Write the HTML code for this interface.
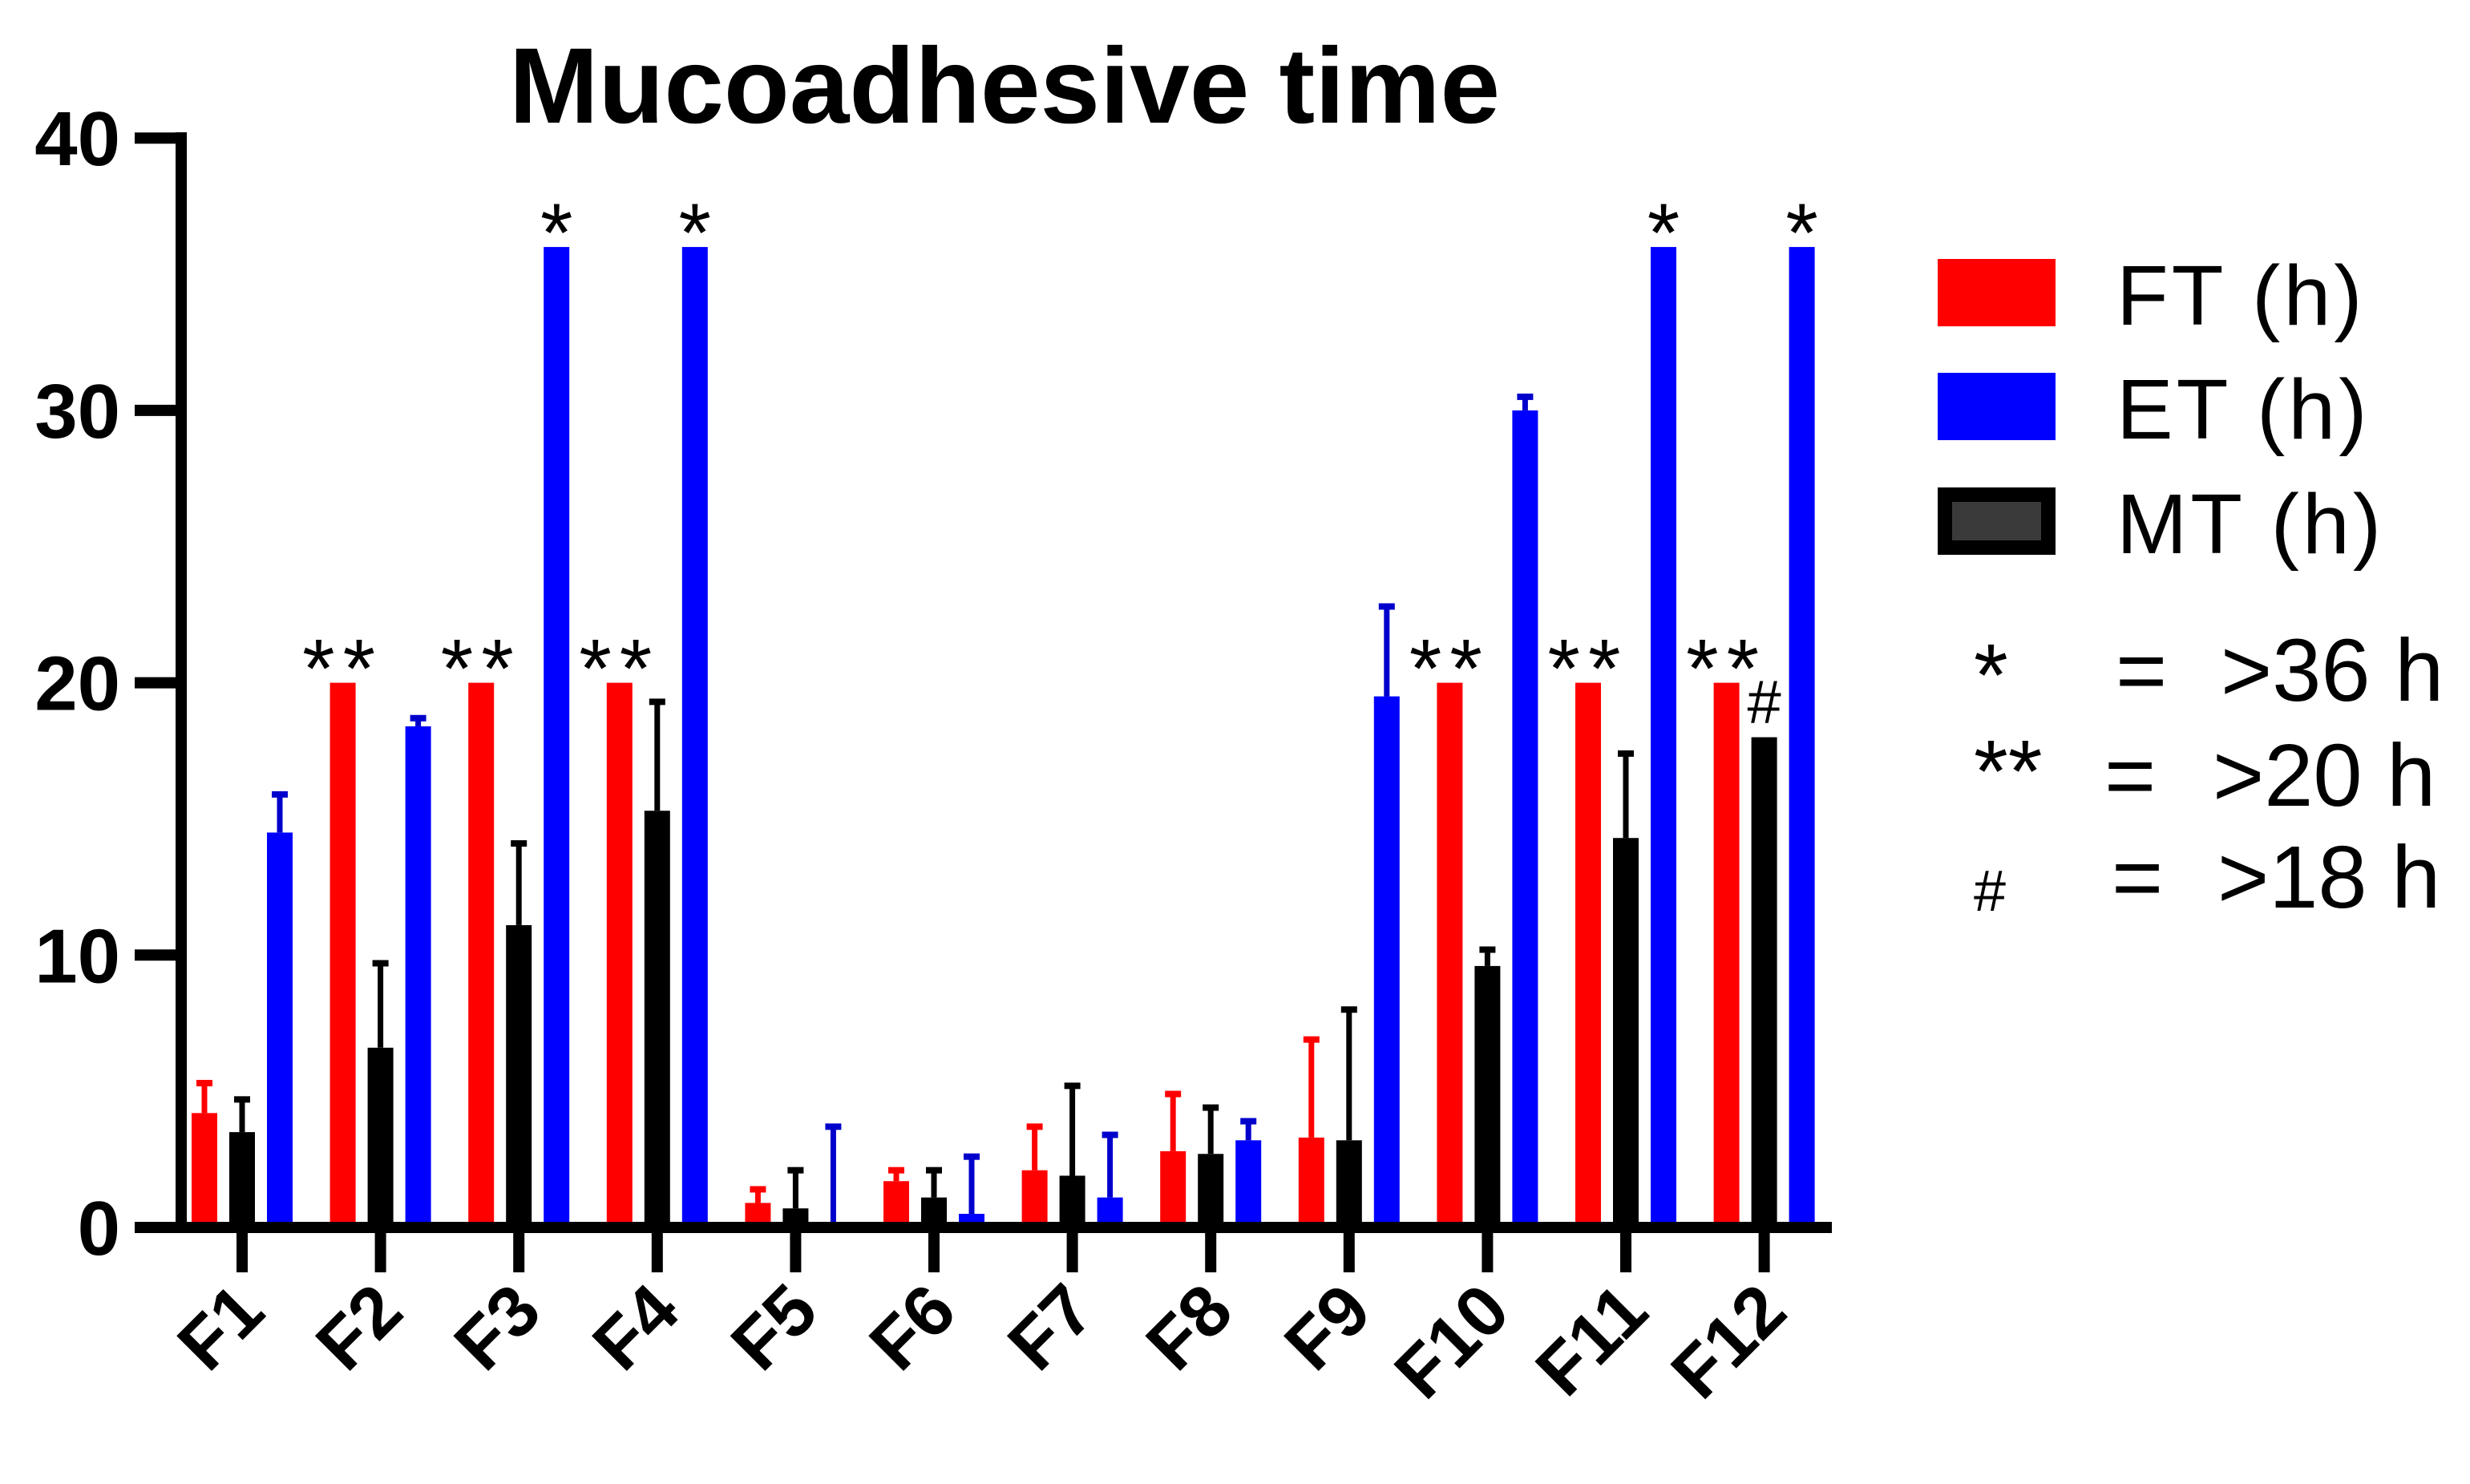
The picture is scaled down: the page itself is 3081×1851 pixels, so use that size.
<!DOCTYPE html>
<html><head><meta charset="utf-8"><style>
html,body{margin:0;padding:0;background:#fff;}
svg{display:block;}
text{font-family:"Liberation Sans",Arial,sans-serif;}
</style></head><body>
<svg id="chart" width="3081" height="1851" viewBox="0 0 3081 1851" xmlns="http://www.w3.org/2000/svg">
<text x="1253" y="153" font-size="134" font-weight="bold" text-anchor="middle">Mucoadhesive time</text>
<g id="bars"></g>
<g id="axes"></g>
<g>
<rect x="2417" y="323" width="147" height="84" fill="#ff0000"/>
<text x="2640" y="405" font-size="106" letter-spacing="4">FT (h)</text>
<rect x="2417" y="465" width="147" height="84" fill="#0000ff"/>
<text x="2640" y="547" font-size="106" letter-spacing="4">ET (h)</text>
<rect x="2426" y="617" width="129" height="66" fill="#3a3a3a" stroke="#000" stroke-width="18"/>
<text x="2640" y="690" font-size="106" letter-spacing="4">MT (h)</text>
<text x="2462" y="880" font-size="110">*</text>
<text x="2639" y="874" font-size="110">=</text>
<text x="2770" y="874" font-size="110">&gt;36 h</text>
<text x="2462" y="1000" font-size="110">**</text>
<text x="2625" y="1005" font-size="110">=</text>
<text x="2760" y="1005" font-size="110">&gt;20 h</text>
<text x="2462" y="1136" font-size="72">#</text>
<text x="2634" y="1132" font-size="110">=</text>
<text x="2766" y="1132" font-size="110">&gt;18 h</text>
</g>
</svg>
<script>
const categories=["F1","F2","F3","F4","F5","F6","F7","F8","F9","F10","F11","F12"];
const ftValues=[4.2,20,20,20,0.9,1.7,2.1,2.8,3.3,20,20,20];
const ftErrors=[5.3,null,null,null,1.4,2.1,3.7,4.9,6.9,null,null,null];
const mtValues=[3.5,6.6,11.1,15.3,0.7,1.1,1.9,2.7,3.2,9.6,14.3,18];
const mtErrors=[4.7,9.7,14.1,19.3,2.1,2.1,5.2,4.4,8.0,10.2,17.4,null];
const etValues=[14.5,18.4,36,36,0.2,0.5,1.1,3.2,19.5,30,36,36];
const etErrors=[15.9,18.7,null,null,3.7,2.6,3.4,3.9,22.8,30.5,null,null];
const ftMarks=["","**","**","**","","","","","","**","**","**"];
const etMarks=["","","*","*","","","","","","","*","*"];
const mtMarks=["","","","","","","","","","","","#"];
const yTicks=[0,10,20,30,40];

const NS="http://www.w3.org/2000/svg";
const y0=1531,unit=33.97;
function yScale(v){return y0-v*unit;}
function xScale(i){return 302+i*172.6;}
const barsG=document.getElementById('bars');
const axesG=document.getElementById('axes');
function mk(tag,attrs,parent){const e=document.createElementNS(NS,tag);for(const k in attrs)e.setAttribute(k,attrs[k]);parent.appendChild(e);return e;}
const BW=32;
const series=[
 {vals:ftValues,errs:ftErrors,marks:ftMarks,off:-47,color:"#ff0000",err:"#ff0000",name:"ft"},
 {vals:mtValues,errs:mtErrors,marks:mtMarks,off:0,color:"#000000",err:"#000000",name:"mt"},
 {vals:etValues,errs:etErrors,marks:etMarks,off:47,color:"#0000ff",err:"#0000cc",name:"et"}];
series.forEach(s=>{
 categories.forEach((c,i)=>{
  const cx=xScale(i)+s.off,v=s.vals[i];
  const top=yScale(v);
  const r=mk('rect',{x:cx-BW/2,y:top,width:BW,height:y0-top,fill:s.color},barsG);
  
  
  const e=s.errs[i];
  if(e!=null){
   const et=yScale(e);
   const l=mk('line',{x1:cx,x2:cx,y1:top,y2:et,stroke:s.err,'stroke-width':7},barsG);
   
   
   const cap=mk('rect',{x:cx-10,y:et-4,width:20,height:8,fill:s.err},barsG);
   
   
  }
  const m=s.marks[i];
  if(m){
   const fs=m=="#"?76:104;
   const t=mk('text',{x:cx,y:top-(m=="#"?18:-18),'font-size':fs,'text-anchor':'middle','letter-spacing':m=="**"?10:0},barsG);
   t.textContent=m;
   
   
  }
 });
});
const ya=mk('line',{x1:226,x2:226,y1:165,y2:1538,stroke:'#000','stroke-width':14},axesG);


const xa=mk('line',{x1:168,x2:2285,y1:y0,y2:y0,stroke:'#000','stroke-width':14},axesG);


yTicks.forEach(v=>{
 const y=yScale(v);
 const t=mk('line',{x1:168,x2:226,y1:y,y2:y,stroke:'#000','stroke-width':14},axesG);
 
 
 const lb=mk('text',{x:150,y:y+34,'font-size':96,'font-weight':'bold','text-anchor':'end'},axesG);
 lb.textContent=v;
 
 
});
categories.forEach((c,i)=>{
 const x=xScale(i);
 const t=mk('line',{x1:x,x2:x,y1:y0,y2:1587,stroke:'#000','stroke-width':14},axesG);
 
 
 const lx=x+32,ly=1640;
 const lb=mk('text',{x:lx,y:ly,'font-size':90,'font-weight':'bold','text-anchor':'end',transform:'rotate(-45 '+lx+' '+ly+')'},axesG);
 lb.textContent=c;
 
 
});
</script>
</body></html>
